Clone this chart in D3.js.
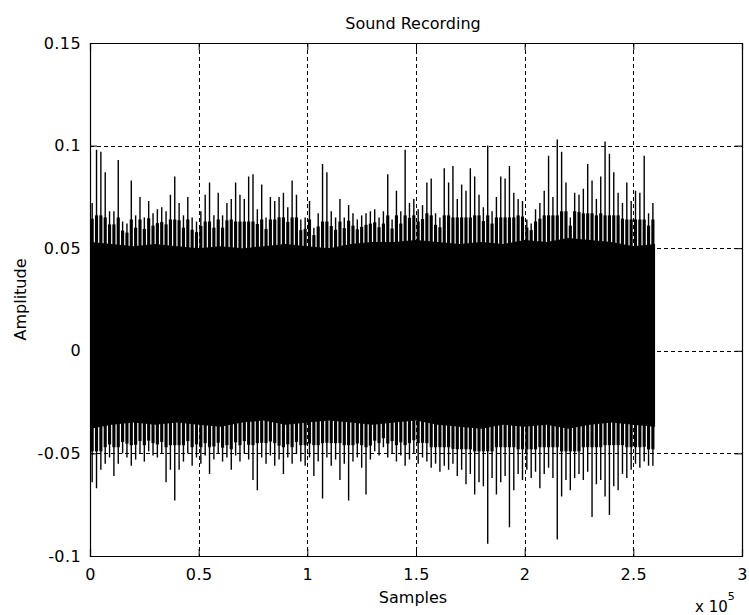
<!DOCTYPE html>
<html lang="en">
<head>
<meta charset="UTF-8">
<title>Sound Recording</title>
<script src="https://d3js.org/d3.v7.min.js"></script>
<style>
  body { margin: 0; background: #fff; }
  svg text { font-family: "DejaVu Sans", sans-serif; fill: #000; }
</style>
</head>
<body>
<script>

// waveform summary, one value per 2000 samples (max / min of each block)
var binSize = 2000;
var peakHi = [
  0.072, 0.098, 0.097, 0.087, 0.068, 0.068, 0.093, 0.063, 0.062, 0.083,
  0.066, 0.075, 0.065, 0.073, 0.067, 0.069, 0.070, 0.068, 0.076, 0.085,
  0.072, 0.066, 0.075, 0.065, 0.063, 0.068, 0.076, 0.082, 0.066, 0.077,
  0.066, 0.072, 0.074, 0.082, 0.076, 0.074, 0.085, 0.086, 0.069, 0.081,
  0.065, 0.075, 0.073, 0.075, 0.077, 0.070, 0.083, 0.076, 0.064, 0.065,
  0.073, 0.060, 0.067, 0.091, 0.087, 0.068, 0.065, 0.074, 0.065, 0.071,
  0.067, 0.064, 0.066, 0.067, 0.068, 0.069, 0.065, 0.068, 0.086, 0.064,
  0.078, 0.068, 0.098, 0.072, 0.074, 0.069, 0.071, 0.082, 0.084, 0.067,
  0.065, 0.089, 0.082, 0.090, 0.074, 0.081, 0.078, 0.089, 0.085, 0.076,
  0.070, 0.100, 0.068, 0.075, 0.085, 0.084, 0.090, 0.077, 0.074, 0.073,
  0.064, 0.062, 0.069, 0.072, 0.078, 0.095, 0.075, 0.103, 0.097, 0.082,
  0.065, 0.077, 0.076, 0.079, 0.091, 0.083, 0.074, 0.085, 0.102, 0.096,
  0.087, 0.077, 0.072, 0.082, 0.073, 0.078, 0.077, 0.095, 0.067, 0.072
];
var peakLo = [
  -0.064, -0.067, -0.058, -0.055, -0.052, -0.061, -0.055, -0.050, -0.052, -0.056,
  -0.053, -0.050, -0.054, -0.049, -0.051, -0.052, -0.050, -0.064, -0.058, -0.073,
  -0.058, -0.054, -0.050, -0.056, -0.052, -0.055, -0.051, -0.060, -0.053, -0.050,
  -0.054, -0.052, -0.058, -0.051, -0.054, -0.050, -0.053, -0.063, -0.068, -0.052,
  -0.055, -0.051, -0.056, -0.053, -0.060, -0.052, -0.055, -0.050, -0.054, -0.056,
  -0.052, -0.061, -0.054, -0.072, -0.052, -0.056, -0.053, -0.063, -0.055, -0.073,
  -0.054, -0.052, -0.057, -0.070, -0.053, -0.049, -0.051, -0.047, -0.052, -0.050,
  -0.054, -0.051, -0.056, -0.053, -0.050, -0.055, -0.052, -0.054, -0.057, -0.055,
  -0.059, -0.056, -0.058, -0.055, -0.061, -0.058, -0.065, -0.060, -0.070, -0.064,
  -0.066, -0.094, -0.062, -0.070, -0.064, -0.061, -0.086, -0.068, -0.060, -0.063,
  -0.058, -0.062, -0.059, -0.067, -0.060, -0.057, -0.062, -0.092, -0.071, -0.063,
  -0.068, -0.062, -0.060, -0.063, -0.059, -0.081, -0.065, -0.063, -0.071, -0.080,
  -0.066, -0.068, -0.060, -0.062, -0.058, -0.055, -0.057, -0.054, -0.056, -0.056
];

// solid core of the signal, every 10000 samples
var coreStep = 10000;
var coreHi = [0.053, 0.052, 0.051, 0.052, 0.051, 0.050, 0.051, 0.050, 0.051, 0.052,
              0.051, 0.050, 0.052, 0.053, 0.053, 0.054, 0.053, 0.052, 0.053, 0.052,
              0.054, 0.053, 0.055, 0.054, 0.053, 0.051, 0.052];
var coreLo = [-0.038, -0.036, -0.035, -0.036, -0.035, -0.036, -0.037, -0.035, -0.034, -0.036,
              -0.035, -0.034, -0.035, -0.036, -0.035, -0.034, -0.036, -0.037, -0.038, -0.036,
              -0.037, -0.036, -0.038, -0.036, -0.035, -0.036, -0.037];

var xTicks = [0, 50000, 100000, 150000, 200000, 250000, 300000];
var yTicks = [-0.1, -0.05, 0, 0.05, 0.1, 0.15];

var W = 749, H = 615;
var margin = {top: 43, right: 7, bottom: 59, left: 90};

var x = d3.scaleLinear().domain([0, 300000]).range([margin.left, W - margin.right]);
var y = d3.scaleLinear().domain([-0.1, 0.15]).range([H - margin.bottom, margin.top]);

var svg = d3.select("body").append("svg")
    .attr("width", W)
    .attr("height", H);

// dashed grid
var grid = svg.append("g").attr("stroke", "#000").attr("stroke-dasharray", "4,3").attr("stroke-width", 1);
grid.selectAll(".vg").data(xTicks.slice(1, -1)).enter().append("line")
    .attr("x1", function(d){ return Math.round(x(d)) + 0.5; })
    .attr("x2", function(d){ return Math.round(x(d)) + 0.5; })
    .attr("y1", y(0.15)).attr("y2", y(-0.1));
grid.selectAll(".hg").data(yTicks.slice(1, -1)).enter().append("line")
    .attr("y1", function(d){ return Math.round(y(d)) + 0.5; })
    .attr("y2", function(d){ return Math.round(y(d)) + 0.5; })
    .attr("x1", x(0)).attr("x2", x(300000));

// core of the waveform
var core = d3.area()
    .x(function(d, i){ return x(i * coreStep); })
    .y0(function(d, i){ return y(coreLo[i]); })
    .y1(function(d){ return y(d); });

svg.append("path")
    .datum(coreHi)
    .attr("d", core)
    .attr("fill", "#000");

// each block: a thick body near the core and a thin spike out to its max / min
var step = x(binSize) - x(0);
var bw = step * 0.72;
var coreAt = function(arr, i){ return arr[Math.min(arr.length - 1, Math.round(i * binSize / coreStep))]; };
// how far the thick part reaches past the core (fraction of the spike, capped)
var thickTop = function(d, i){
    var c = coreAt(coreHi, i);
    return Math.min(d, c + 0.6 * (d - c), c + 0.013);
};
var thickBot = function(i){
    var c = coreAt(coreLo, i), d = peakLo[i];
    return Math.max(d, c + 0.6 * (d - c), c - 0.011);
};

var blocks = svg.append("g").selectAll("g").data(peakHi).enter().append("g");
blocks.append("rect")
    .attr("x", function(d, i){ return x(i * binSize + binSize / 2) - bw / 2; })
    .attr("width", bw)
    .attr("y", function(d, i){ return y(thickTop(d, i)); })
    .attr("height", function(d, i){ return y(thickBot(i)) - y(thickTop(d, i)); })
    .attr("fill", "#000");
blocks.append("line")
    .attr("x1", function(d, i){ return x(i * binSize + binSize / 2); })
    .attr("x2", function(d, i){ return x(i * binSize + binSize / 2); })
    .attr("y1", function(d){ return y(d); })
    .attr("y2", function(d, i){ return y(peakLo[i]); })
    .attr("stroke", "#000")
    .attr("stroke-width", 1.4);

// axes, ticks pointing inward like matlab
var fmtY = function(d){ return String(+d.toFixed(2)); };
var fmtX = function(d){ return String(d / 100000); };
var tl = 7;

svg.append("g")
    .attr("transform", "translate(0," + y(-0.1) + ")")
    .call(d3.axisBottom(x).tickValues(xTicks).tickSize(-tl).tickPadding(13).tickFormat(fmtX));
svg.append("g")
    .attr("transform", "translate(0," + y(0.15) + ")")
    .call(d3.axisTop(x).tickValues(xTicks).tickSize(-tl).tickFormat(""));
svg.append("g")
    .attr("transform", "translate(" + x(0) + ",0)")
    .call(d3.axisLeft(y).tickValues(yTicks).tickSize(-tl).tickPadding(9).tickFormat(fmtY));
svg.append("g")
    .attr("transform", "translate(" + x(300000) + ",0)")
    .call(d3.axisRight(y).tickValues(yTicks).tickSize(-tl).tickFormat(""));

svg.selectAll(".domain").attr("stroke", "#000").attr("stroke-width", 1.2);
svg.selectAll(".tick line").attr("stroke", "#000");
svg.selectAll(".tick text")
    .style("font-family", "DejaVu Sans, sans-serif")
    .style("font-size", "16px")
    .style("letter-spacing", "0.4px")
    .attr("fill", "#000");

// titles
svg.append("text")
    .attr("x", 413).attr("y", 29)
    .attr("text-anchor", "middle")
    .style("font-size", "16px")
    .text("Sound Recording");

svg.append("text")
    .attr("x", 413).attr("y", 603)
    .attr("text-anchor", "middle")
    .style("font-size", "16px")
    .text("Samples");

svg.append("text")
    .attr("transform", "translate(26," + ((y(0.15) + y(-0.1)) / 2) + ") rotate(-90)")
    .attr("text-anchor", "middle")
    .style("font-size", "16px")
    .text("Amplitude");

var expo = svg.append("text")
    .attr("x", 695).attr("y", 612)
    .style("font-size", "15px");
expo.append("tspan").text("x 10");
expo.append("tspan").attr("dy", -12).style("font-size", "11px").text("5");

</script>
</body>
</html>
